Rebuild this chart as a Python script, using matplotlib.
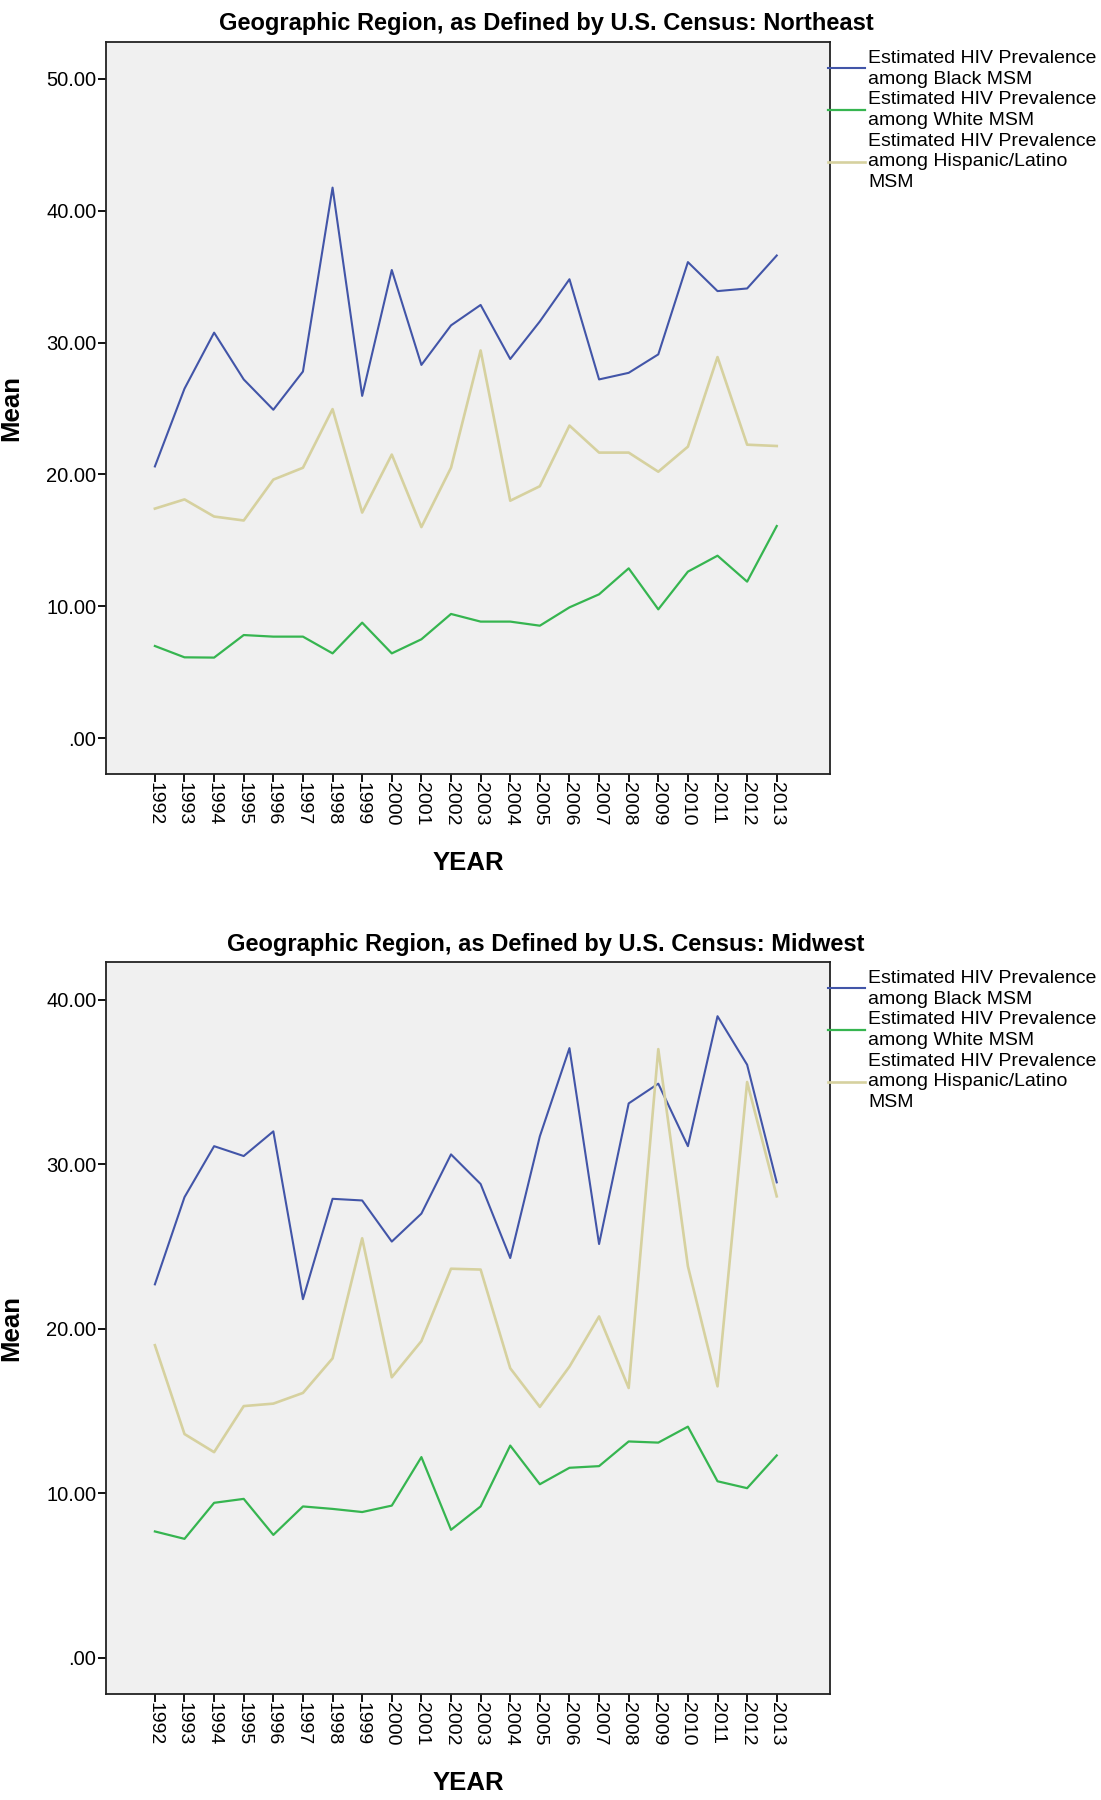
import matplotlib
matplotlib.use("Agg")
import matplotlib.pyplot as plt
from matplotlib.ticker import FixedLocator, FuncFormatter

plt.rcParams['font.family'] = ['Liberation Sans', 'DejaVu Sans']

years = list(range(1992, 2014))

# Northeast
ne_black = [20.6, 26.5, 30.75, 27.2, 24.9, 27.8, 41.75, 25.95, 35.5, 28.3, 31.3,
            32.85, 28.75, 31.6, 34.8, 27.2, 27.7, 29.1, 36.1, 33.9, 34.1, 36.6]
ne_white = [6.98, 6.12, 6.1, 7.81, 7.69, 7.69, 6.42, 8.75, 6.42, 7.49, 9.41,
            8.83, 8.83, 8.52, 9.91, 10.9, 12.87, 9.76, 12.62, 13.83, 11.86, 16.08]
ne_hisp = [17.4, 18.1, 16.8, 16.5, 19.6, 20.5, 24.95, 17.1, 21.5, 16.0, 20.5,
           29.4, 18.0, 19.1, 23.7, 21.65, 21.65, 20.2, 22.1, 28.9, 22.25, 22.15]

# Midwest
mw_black = [22.7, 28.0, 31.1, 30.5, 32.0, 21.8, 27.9, 27.8, 25.3, 27.0, 30.6,
            28.8, 24.3, 31.7, 37.06, 25.15, 33.7, 34.9, 31.1, 39.0, 36.05, 28.9]
mw_white = [7.68, 7.23, 9.42, 9.66, 7.47, 9.2, 9.05, 8.86, 9.25, 12.2, 7.78,
            9.2, 12.9, 10.55, 11.55, 11.65, 13.15, 13.08, 14.05, 10.73, 10.31, 12.3]
mw_hisp = [19.0, 13.6, 12.5, 15.3, 15.45, 16.1, 18.2, 25.5, 17.05, 19.25, 23.65,
           23.6, 17.6, 15.25, 17.7, 20.75, 16.4, 37.0, 23.8, 16.5, 35.0, 28.05]

labels = ["Estimated HIV Prevalence\namong Black MSM",
          "Estimated HIV Prevalence\namong White MSM",
          "Estimated HIV Prevalence\namong Hispanic/Latino\nMSM"]
colors = ['#4255a8', '#36b550', '#d6d19f']

panels = [
    ("Geographic Region, as Defined by U.S. Census: Northeast",
     ne_black, ne_white, ne_hisp, [0, 10, 20, 30, 40, 50], (-2.73, 52.8)),
    ("Geographic Region, as Defined by U.S. Census: Midwest",
     mw_black, mw_white, mw_hisp, [0, 10, 20, 30, 40], (-2.2, 42.3)),
]


def fmt(v, pos):
    s = "{:.2f}".format(v)
    if abs(v) < 1:
        s = s.lstrip('0')
    return s


fig = plt.figure(figsize=(11.01, 18), dpi=100)
rects = [[0.0963, 0.5700, 0.6576, 0.4067], [0.0963, 0.0589, 0.6576, 0.4067]]
title_y = [0.9870, 0.4755]

for (title, b, w, h, yt, ylim), rect, ty in zip(panels, rects, title_y):
    ax = fig.add_axes(rect)
    ax.set_facecolor('#f0f0f0')
    ax.plot(years, b, color=colors[0], lw=1.5, label=labels[0])
    ax.plot(years, w, color=colors[1], lw=1.6, label=labels[1])
    ax.plot(years, h, color=colors[2], lw=1.9, label=labels[2])
    ax.set_xlim(1990.35, 2014.8)
    ax.set_ylim(*ylim)
    ax.xaxis.set_major_locator(FixedLocator(years))
    ax.set_xticklabels([str(y) for y in years], rotation=270, fontsize=14)
    ax.yaxis.set_major_locator(FixedLocator(yt))
    ax.yaxis.set_major_formatter(FuncFormatter(fmt))
    ax.tick_params(axis='y', labelsize=14.5, length=6, width=1.3, pad=1)
    ax.tick_params(axis='x', length=6, width=1.3, pad=0)
    for sp in ax.spines.values():
        sp.set_linewidth(1.3)
        sp.set_color('#222222')
    ax.set_ylabel("Mean", fontsize=18.5, fontweight='bold')
    ax.yaxis.set_label_coords(-0.114, 0.5)
    ax.set_xlabel("YEAR", fontsize=18.5, fontweight='bold')
    ax.xaxis.set_label_coords(0.5, -0.105)
    fig.text(0.496, ty, title, ha='center', va='center', fontsize=17,
             fontweight='bold')
    leg = ax.legend(loc='upper left', bbox_to_anchor=(0.995, 0.992),
                    frameon=False, fontsize=14, handlelength=1.9,
                    handletextpad=0.15, labelspacing=0.18, borderaxespad=0,
                    borderpad=0.1)
    for t in leg.get_texts():
        t.set_linespacing(1.3)

fig.savefig("out.png", dpi=100)
